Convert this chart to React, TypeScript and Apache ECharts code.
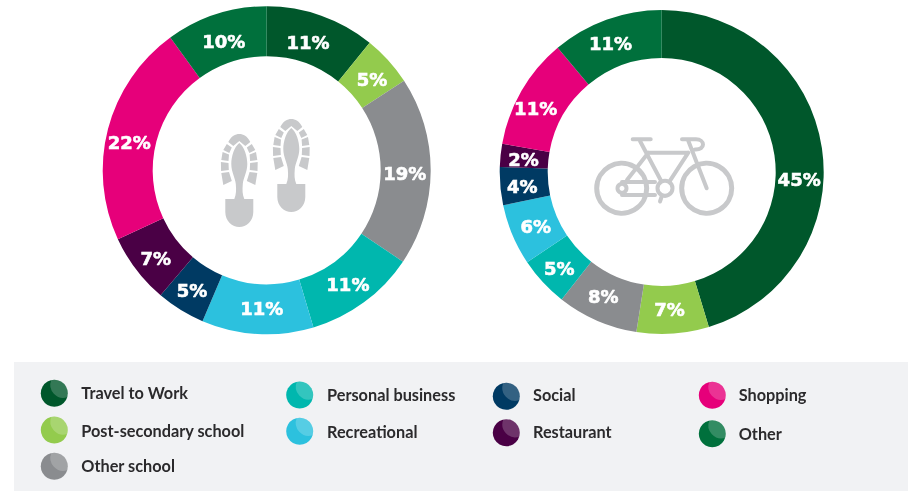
import React, { useEffect, useRef } from "react";
import * as echarts from "echarts";

const categories = ["Travel to Work","Post-secondary school","Other school","Personal business","Recreational","Social","Restaurant","Shopping","Other"];
const palette = ["#00572b","#93cb4d","#8a8c8f","#00b7ae","#2cc1de","#003a63","#4a0045","#e6007a","#00703c"];
const walkValues = [10.8,5,18.6,11,11,4.8,6.9,21.9,10];
const bikeValues = [45.3,7.2,8.1,5,6.1,3.8,2.3,11.1,11.1];
const walkLabelNudge = [[-6,6],[0,4],[-4,2],[-3,0],[3,-4],[0,-1],[2,2],[0,8],[1,6]];
const bikeLabelNudge = [[-2,28],[-2,-3],[-2,-5],[1,1],[4,0],[1,2],[2,2],[-4,7],[-3,4]];

// [category, circle x, circle y, text x, text y]
const legendCells = [
  [0,54.3,393.3,81.3,392.7],[1,54.3,430,81.3,430],[2,54.3,466.3,81.3,465.7],
  [3,299.7,395,327,394.7],[4,299.7,431.3,327,431.7],
  [5,506.3,396.3,533,394.7],[6,506.3,432.7,533,431.7],
  [7,712.3,395.3,738.7,394.7],[8,712.3,433.7,738.7,433.7],
];

const ICON = "#c8c9cb";
const crescent = "M-3 -13.2 A13.5 13.5 0 0 1 13 4 A13 13 0 0 1 -3 -13.2 Z";
const treadPath =
  "M-11 8 C-8 2 -4 0 0 0 C4 0 8 2 11 8 L6 12 L0 7 L-6 12 Z " +
  "M-12.5 10 L-7.5 13.5 L-10 19 L-16 16 Z M12.5 10 L7.5 13.5 L10 19 L16 16 Z " +
  "M-16.7 18 L-10.3 20.5 L-10.8 27 L-18 26 Z M16.7 18 L10.3 20.5 L10.8 27 L18 26 Z " +
  "M-18.4 28 L-10.8 29 L-10.5 36 L-18.2 37 Z M18.4 28 L10.8 29 L10.5 36 L18.2 37 Z " +
  "M-18 39 L-10.3 38 L-7.5 47 L-16 51 Z M18 39 L10.3 38 L7.5 47 L16 51 Z";
const solePath =
  "M0 9 C5 13 8 22 8 30 C8 38 4 44 3.5 50 C3 56 3 60 5 65 L14 65 L14 78 C14 87 7 93 0 93 " +
  "C-7 93 -14 87 -14 78 L-14 65 L-5 65 C-3 60 -3 56 -3.5 50 C-4 44 -8 38 -8 30 C-8 22 -5 13 0 9 Z";
const bikePath =
  "M632.7 139.3 L650.7 139.3 M640 141 L665 188.3 M648.3 152.7 L688.3 152.7 M688.3 152.7 L665 188.3 " +
  "M648.3 152.7 L627 180 M682 139.3 L696 139.3 C705 139.3 706 150 695 149.5 M688 140 L706.7 188.3 " +
  "M664.5 188 L660 201.5 M622 182 L655 182 M622 195 L655 195";

echarts.graphic.registerShape("legendGlow", echarts.graphic.extendPath(crescent, {}));
echarts.graphic.registerShape("shoeTread", echarts.graphic.extendPath(treadPath, {}));
echarts.graphic.registerShape("shoeSole", echarts.graphic.extendPath(solePath, {}));
echarts.graphic.registerShape("bikeFrame", echarts.graphic.extendPath(bikePath, {}));

function pieSeries(values: number[], nudge: number[][], center: [number, number], inner: number, outer: number) {
  return {
    type: "pie",
    silent: true,
    center,
    radius: [inner, outer],
    startAngle: 90,
    clockwise: true,
    itemStyle: { borderWidth: 0 },
    label: {
      show: true,
      position: "inside",
      formatter: (p: any) => Math.round(p.value) + "%",
      color: "#fff",
      fontFamily: "DejaVu Sans",
      fontWeight: "bold",
      fontSize: 18,
      textBorderColor: "#fff",
      textBorderWidth: 0.6,
    },
    labelLayout: (p: any) => ({ dx: nudge[p.dataIndex][0], dy: nudge[p.dataIndex][1] }),
    labelLine: { show: false },
    data: values.map((value, i) => ({ name: categories[i], value, itemStyle: { color: palette[i] } })),
  };
}

export default function App() {
  const ref = useRef<HTMLDivElement>(null);
  useEffect(() => {
    const chart = echarts.init(ref.current!, null, { renderer: "svg" });
    const graphic: any[] = [
      { type: "rect", z: -1, shape: { x: 14, y: 362, width: 894, height: 129 }, style: { fill: "#f1f2f4" } },
    ];
    legendCells.forEach(([i, cx, cy, tx, ty]) => {
      graphic.push({ type: "circle", shape: { cx, cy, r: 13.5 }, style: { fill: palette[i] } });
      graphic.push({ type: "legendGlow", x: cx, y: cy, style: { fill: "rgba(255,255,255,0.2)" } });
      graphic.push({
        type: "text", x: tx, y: ty,
        style: { text: categories[i], fill: "#2b2a2c", font: "bold 16.3px Lato", verticalAlign: "middle" },
      });
    });
    [[239.3, 134], [291.3, 119]].forEach(([x, y]) => {
      graphic.push({ type: "shoeTread", x, y, style: { fill: ICON } });
      graphic.push({ type: "shoeSole", x, y, style: { fill: ICON } });
    });
    const stroke = { fill: "none", stroke: ICON, lineWidth: 4, lineCap: "round", lineJoin: "round" };
    graphic.push({ type: "bikeFrame", style: stroke });
    graphic.push({ type: "circle", shape: { cx: 621.7, cy: 188.3, r: 25 }, style: { fill: "none", stroke: ICON, lineWidth: 5 } });
    graphic.push({ type: "circle", shape: { cx: 706.7, cy: 188.3, r: 25 }, style: { fill: "none", stroke: ICON, lineWidth: 5 } });
    graphic.push({ type: "circle", shape: { cx: 665, cy: 188.3, r: 7.5 }, style: { fill: "#fff", stroke: ICON, lineWidth: 4 } });
    graphic.push({ type: "circle", shape: { cx: 622, cy: 188.3, r: 4.5 }, style: { fill: "#fff", stroke: ICON, lineWidth: 4 } });
    chart.setOption({
      animation: false,
      series: [
        pieSeries(walkValues, walkLabelNudge, [266.7, 170.3], 114, 164),
        pieSeries(bikeValues, bikeLabelNudge, [661.7, 172], 114, 162),
      ],
      graphic,
    });
    return () => chart.dispose();
  }, []);
  return <div ref={ref} style={{ position: "fixed", left: 0, top: 0, width: 914, height: 491 }} />;
}
